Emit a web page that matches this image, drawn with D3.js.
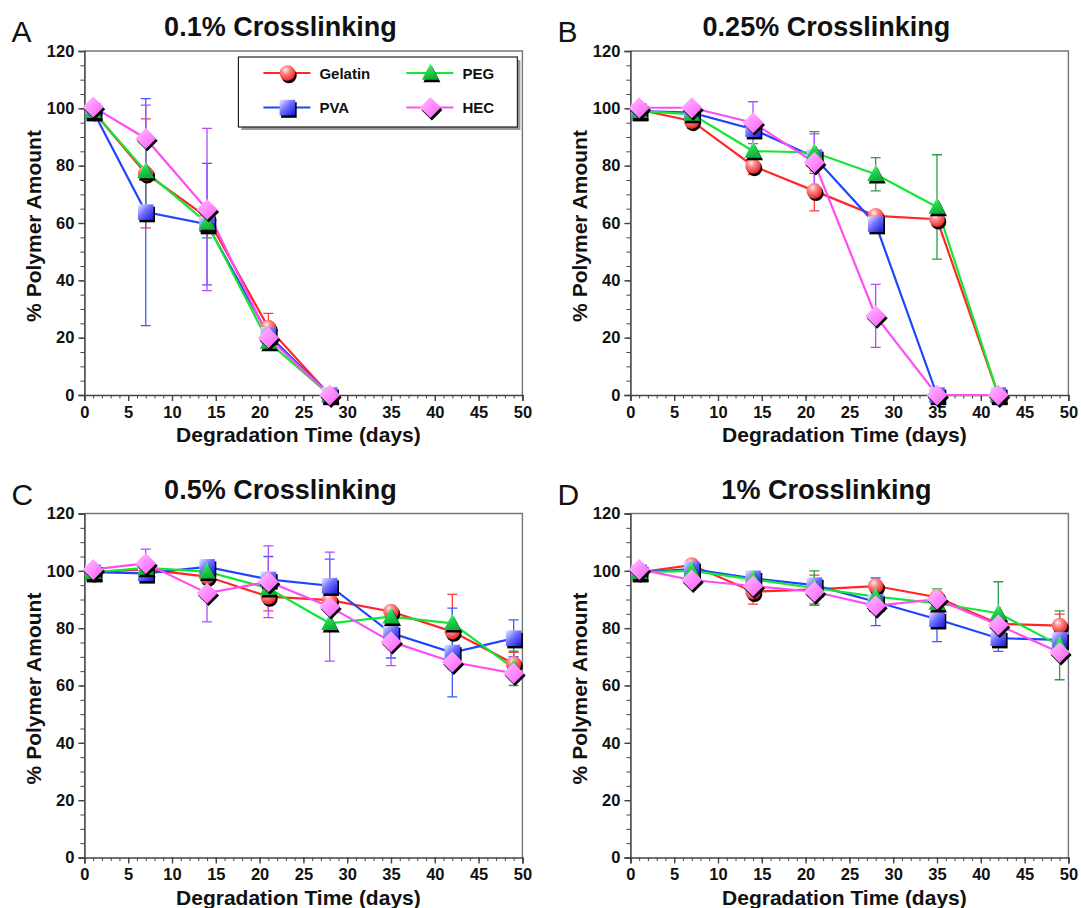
<!DOCTYPE html>
<html>
<head>
<meta charset="utf-8">
<script src="https://cdn.jsdelivr.net/npm/d3@7"></script>
<style>
  body { margin: 0; background: #fff; }
  svg { display: block; }
  text { font-family: "Liberation Sans", Arial, Helvetica, sans-serif; }
</style>
</head>
<body>
<svg id="chart" width="1081" height="908"></svg>
<script>
// sampling days (x values)
const days = [1, 7, 14, 21, 28, 35, 42, 49];

const seriesNames = ['Gelatin', 'PVA', 'PEG', 'HEC'];
const panelLetters = ['A', 'B', 'C', 'D'];
const panelTitles = ['0.1% Crosslinking', '0.25% Crosslinking', '0.5% Crosslinking', '1% Crosslinking'];
const xTicks = [0, 5, 10, 15, 20, 25, 30, 35, 40, 45, 50];
const yTicks = [0, 20, 40, 60, 80, 100, 120];

// A - 0.1%
const gelatinA = [99, 77.3, 62, 23.5, 0];
const gelatinAErr = [0, 19, 0, 5, 0];
const pvaA = [99, 63.8, 59.6, 21, 0];
const pvaAErr = [0, 39.6, 21.2, 0, 0];
const pegA = [99, 78, 60, 18.5, 0];
const pegAErr = [0, 13, 5.2, 0, 0];
const hecA = [100.5, 89.5, 64.7, 20, 0];
const hecAErr = [0, 11.6, 28.3, 0, 0];

// B - 0.25%
const gelatinB = [99.5, 95.6, 79.9, 71.2, 62.5, 61.3, 0];
const gelatinBErr = [0, 2.5, 3, 7, 0, 0, 0];
const pvaB = [99, 98.5, 92.7, 83, 59.6, 0, 0];
const pvaBErr = [0, 0, 0, 0, 0, 0, 0];
const pegB = [99, 98, 85.1, 84.6, 77, 65.6, 0];
const pegBErr = [0, 0, 0, 7.3, 5.8, 18.2, 0];
const hecB = [100.2, 100.2, 95, 81.1, 27.6, 0, 0];
const hecBErr = [0, 0, 7.3, 10, 11, 0, 0];

// C - 0.5%
const gelatinC = [99.5, 100.5, 98, 91, 89.8, 85.8, 78.8, 67.6];
const gelatinCErr = [0, 0, 0, 5, 0, 0, 13, 4];
const pvaC = [99.5, 99.1, 101.4, 97, 94.8, 78.3, 71.5, 76.5];
const pvaCErr = [0, 0, 0, 8, 9.3, 8.7, 15.5, 6.4];
const pegC = [99.5, 101, 99.7, 93.9, 81.7, 84, 81.7, 66];
const pegCErr = [0, 0, 0, 0, 0, 0, 0, 6];
const hecC = [100.5, 102.6, 92.2, 96.2, 87.5, 75.3, 68.2, 64.3];
const hecCErr = [0, 5, 10, 12.5, 19, 8.4, 0, 0];

// D - 1%
const gelatinD = [99.5, 102, 92.7, 93.5, 94.7, 90.8, 81.5, 80.9];
const gelatinDErr = [0, 0, 4.3, 5, 0, 0, 0, 4];
const pvaD = [99.5, 100.6, 97.4, 95, 89.2, 83.1, 76.5, 75.9];
const pvaDErr = [0, 0, 0, 0, 8.3, 7.8, 4.6, 0];
const pegD = [99.5, 100, 97, 94, 91, 88.7, 85.2, 74];
const pegDErr = [0, 0, 0, 6, 0, 5, 11, 12];
const hecD = [100.5, 96.8, 94.7, 92.7, 87.8, 90.1, 81.1, 71.5];
const hecDErr = [0, 0, 0, 0, 0, 0, 0, 0];

const panelMeans = [
    [gelatinA, pvaA, pegA, hecA],
    [gelatinB, pvaB, pegB, hecB],
    [gelatinC, pvaC, pegC, hecC],
    [gelatinD, pvaD, pegD, hecD]
];
const panelErrs = [
    [gelatinAErr, pvaAErr, pegAErr, hecAErr],
    [gelatinBErr, pvaBErr, pegBErr, hecBErr],
    [gelatinCErr, pvaCErr, pegCErr, hecCErr],
    [gelatinDErr, pvaDErr, pegDErr, hecDErr]
];

// styling per series
const lineColors = ['#ff2626', '#1f44ff', '#14e634', '#ff4cf4'];
const errColors = ['#ff3a3a', '#3a5cff', '#2f9d48', '#b24cff'];
const markerTypes = ['circle', 'square', 'triangle', 'diamond'];

// layout
const plotW = 438, plotH = 344;
const colLeft = [84.4, 630.4];
const rowTop = [51, 513.5];

const svg = d3.select('#chart');
const defs = svg.append('defs');

// marker gradients
let g1 = defs.append('radialGradient').attr('id', 'grad-circle')
    .attr('cx', '0.38').attr('cy', '0.3').attr('r', '0.7');
g1.append('stop').attr('offset', '0').attr('stop-color', '#fff0f0');
g1.append('stop').attr('offset', '0.35').attr('stop-color', '#ff8c8c');
g1.append('stop').attr('offset', '1').attr('stop-color', '#e8282a');

let g2 = defs.append('linearGradient').attr('id', 'grad-square')
    .attr('x1', 0).attr('y1', 0).attr('x2', 1).attr('y2', 1);
g2.append('stop').attr('offset', '0').attr('stop-color', '#ececff');
g2.append('stop').attr('offset', '0.45').attr('stop-color', '#7070ff');
g2.append('stop').attr('offset', '1').attr('stop-color', '#1414d8');

let g3 = defs.append('linearGradient').attr('id', 'grad-triangle')
    .attr('x1', 0).attr('y1', 0).attr('x2', 0.4).attr('y2', 1);
g3.append('stop').attr('offset', '0').attr('stop-color', '#8cf5a0');
g3.append('stop').attr('offset', '0.5').attr('stop-color', '#22d850');
g3.append('stop').attr('offset', '1').attr('stop-color', '#10b038');

let g4 = defs.append('linearGradient').attr('id', 'grad-diamond')
    .attr('x1', 0).attr('y1', 0).attr('x2', 1).attr('y2', 1);
g4.append('stop').attr('offset', '0').attr('stop-color', '#ffc4ff');
g4.append('stop').attr('offset', '0.5').attr('stop-color', '#ff8cff');
g4.append('stop').attr('offset', '1').attr('stop-color', '#f25cf2');

function markerPath(type) {
    if (type === 'circle') {
        let p = d3.path();
        p.arc(0, 0, 7.8, 0, 2 * Math.PI);
        return p.toString();
    }
    if (type === 'square') return 'M-7.8,-7.8H7.8V7.8H-7.8Z';
    if (type === 'triangle') return 'M0,-9.5L8.5,6.8H-8.5Z';
    return 'M0,-10.5L10.5,0L0,10.5L-10.5,0Z';
}

function drawMarker(g, type, cx, cy) {
    let d = markerPath(type);
    g.append('path').attr('d', d)
        .attr('transform', `translate(${cx + 1.5},${cy + 2.4})`)
        .attr('fill', '#000');
    g.append('path').attr('d', d)
        .attr('transform', `translate(${cx},${cy})`)
        .attr('fill', `url(#grad-${type})`);
}

function drawPanel(k) {
    let left = colLeft[k % 2],
        top = rowTop[Math.floor(k / 2)];

    let x = d3.scaleLinear().domain([0, 50]).range([left, left + plotW]);
    let y = d3.scaleLinear().domain([0, 120]).range([top + plotH, top]);

    let g = svg.append('g').attr('class', `panel panel-${panelLetters[k]}`);

    // frame (top / right in grey)
    g.append('path')
        .attr('d', `M${left},${top}H${left + plotW}V${top + plotH}`)
        .attr('fill', 'none')
        .attr('stroke', '#6f7878')
        .attr('stroke-width', 1.4);

    // minor ticks
    g.append('g')
        .attr('transform', `translate(0,${top + plotH})`)
        .call(d3.axisBottom(x).tickValues(d3.range(0, 51, 1)).tickSize(3.5).tickFormat(''))
        .call(a => a.select('.domain').remove())
        .selectAll('line').attr('stroke', '#444').attr('stroke-width', 1);
    g.append('g')
        .attr('transform', `translate(${left},0)`)
        .call(d3.axisLeft(y).tickValues(d3.range(0, 121, 5)).tickSize(4).tickFormat(''))
        .call(a => a.select('.domain').remove())
        .selectAll('line').attr('stroke', '#444').attr('stroke-width', 1);

    // major ticks + labels
    let xa = g.append('g')
        .attr('transform', `translate(0,${top + plotH})`)
        .call(d3.axisBottom(x).tickValues(xTicks).tickSize(6).tickPadding(4).tickFormat(d3.format('d')));
    let ya = g.append('g')
        .attr('transform', `translate(${left},0)`)
        .call(d3.axisLeft(y).tickValues(yTicks).tickSize(6).tickPadding(4).tickFormat(d3.format('d')));

    [xa, ya].forEach(a => {
        a.select('.domain').attr('stroke', '#444').attr('stroke-width', 1.6);
        a.selectAll('.tick line').attr('stroke', '#444').attr('stroke-width', 1.4);
        a.selectAll('.tick text')
            .attr('fill', '#111')
            .style('font-family', '"Liberation Sans", Arial, sans-serif')
            .style('font-weight', 'bold')
            .style('font-size', '16.5px');
    });
    xa.selectAll('.tick text').attr('dy', '0.78em');

    // titles
    g.append('text')
        .attr('x', left + 196).attr('y', top - 15)
        .attr('text-anchor', 'middle')
        .style('font-weight', 'bold').style('font-size', '27px')
        .attr('fill', '#111')
        .text(panelTitles[k]);

    g.append('text')
        .attr('x', left - 73).attr('y', top - 9)
        .style('font-size', '30px')
        .attr('fill', '#111')
        .text(panelLetters[k]);

    g.append('text')
        .attr('x', left + 214).attr('y', top + plotH + 47)
        .attr('text-anchor', 'middle')
        .style('font-weight', 'bold').style('font-size', '21px')
        .attr('fill', '#111')
        .text('Degradation Time (days)');

    g.append('text')
        .attr('transform', `translate(${left - 43},${top + plotH / 2 + 3}) rotate(-90)`)
        .attr('text-anchor', 'middle')
        .style('font-weight', 'bold').style('font-size', '21px')
        .attr('fill', '#111')
        .text('% Polymer Amount');

    let means = panelMeans[k],
        errs = panelErrs[k];

    // error bars
    means.forEach((vals, s) => {
        vals.forEach((v, i) => {
            let e = errs[s][i];
            if (!e) return;
            let cx = x(days[i]);
            g.append('path')
                .attr('d', `M${cx},${y(v - e)}V${y(v + e)}M${cx - 5},${y(v - e)}H${cx + 5}M${cx - 5},${y(v + e)}H${cx + 5}`)
                .attr('fill', 'none')
                .attr('stroke', errColors[s])
                .attr('stroke-width', 1.3);
        });
    });

    // lines
    let line = d3.line()
        .x((d, i) => x(days[i]))
        .y(d => y(d));

    means.forEach((vals, s) => {
        g.append('path')
            .attr('d', line(vals))
            .attr('fill', 'none')
            .attr('stroke', lineColors[s])
            .attr('stroke-width', 2.2);
    });

    // markers
    means.forEach((vals, s) => {
        vals.forEach((v, i) => drawMarker(g, markerTypes[s], x(days[i]), y(v)));
    });

    if (k === 0) drawLegend(left, top);
}

function drawLegend(left, top) {
    let lx = left + 154, ly = top + 6, lw = 279, lh = 70;
    let g = svg.append('g').attr('class', 'legend');

    g.append('rect')
        .attr('x', lx + 3).attr('y', ly + 3).attr('width', lw).attr('height', lh)
        .attr('fill', '#9a9a9a');
    g.append('rect')
        .attr('x', lx).attr('y', ly).attr('width', lw).attr('height', lh)
        .attr('fill', '#fff').attr('stroke', '#222').attr('stroke-width', 1.2);

    // order in legend: Gelatin, PEG / PVA, HEC
    let slots = [[0, 0], [0, 1], [1, 0], [1, 1]]; // [col,row] per series
    seriesNames.forEach((name, s) => {
        let [c, r] = slots[s];
        let mx = lx + 49 + c * 143,
            my = ly + 16 + r * 34.6;
        g.append('line')
            .attr('x1', mx - 24).attr('x2', mx + 23)
            .attr('y1', my).attr('y2', my)
            .attr('stroke', lineColors[s]).attr('stroke-width', 2);
        drawMarker(g, markerTypes[s], mx, my);
        g.append('text')
            .attr('x', mx + 32).attr('y', my + 5.5)
            .style('font-weight', 'bold').style('font-size', '15px')
            .attr('fill', '#111')
            .text(name);
    });
}

panelTitles.forEach((t, k) => drawPanel(k));
</script>
</body>
</html>
